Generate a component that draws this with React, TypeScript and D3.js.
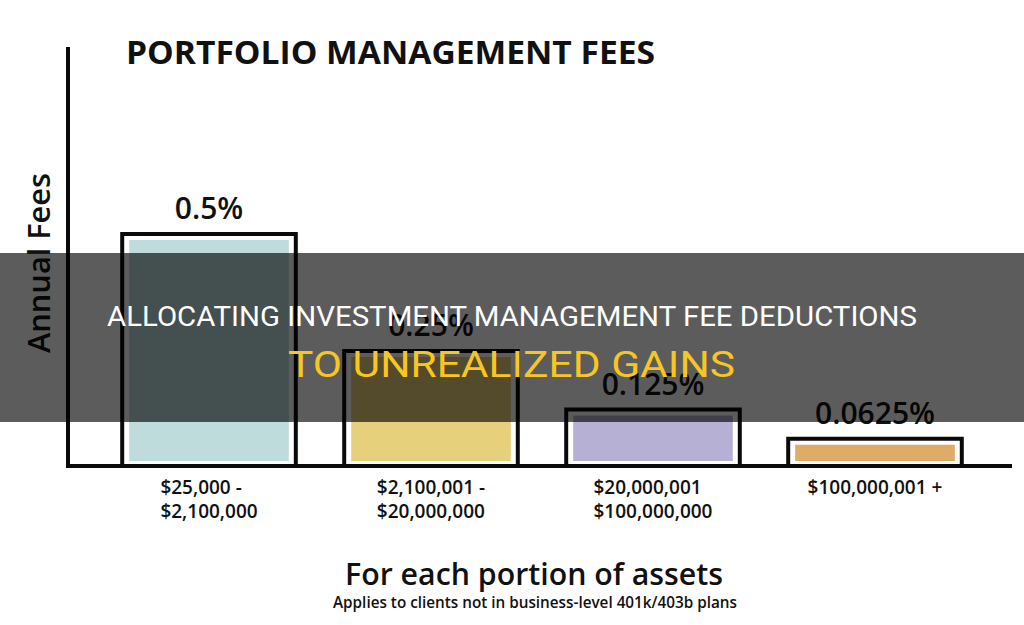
import React, { useEffect, useRef } from "react";
import * as d3 from "d3";

const categoryLine1 = ["$25,000 -", "$2,100,001 -", "$20,000,001", "$100,000,001 +"];
const categoryLine2 = ["$2,100,000", "$20,000,000", "$100,000,000", ""];
const feeValues = [0.5, 0.25, 0.125, 0.0625];
const feeLabels = ["0.5%", "0.25%", "0.125%", "0.0625%"];
const fillColors = ["#bddcdb", "#e6d07b", "#b6b0d4", "#dfab68"];

const W = 1024;
const H = 625;
const FONT = "'Open Sans', 'Noto Sans', sans-serif";

export default function App() {
  const ref = useRef<SVGSVGElement | null>(null);

  useEffect(() => {
    document.body.style.margin = "0";
    const svg = d3.select(ref.current);
    svg.selectAll("*").remove();

    const axisX = 68;
    const axisTop = 47;
    const baseY = 466;

    const x = d3
      .scaleBand<string>()
      .domain(categoryLine1)
      .range([98, 986])
      .paddingInner(0.2)
      .paddingOuter(0.1);
    const y = d3.scaleLinear().domain([0, 0.5]).range([baseY, 232]);
    const bw = x.bandwidth();

    svg.append("rect").attr("width", W).attr("height", H).attr("fill", "#ffffff");

    // Title
    svg
      .append("text")
      .attr("x", 126)
      .attr("y", 64)
      .attr("font-family", FONT)
      .attr("font-weight", 700)
      .attr("font-size", 33)
      .attr("textLength", 529)
      .attr("lengthAdjust", "spacingAndGlyphs")
      .attr("fill", "#111")
      .text("PORTFOLIO MANAGEMENT FEES");

    // Y axis title
    svg
      .append("text")
      .attr("transform", `translate(50,263) rotate(-90)`)
      .attr("text-anchor", "middle")
      .attr("font-family", FONT)
      .attr("font-weight", 600)
      .attr("font-size", 30)
      .attr("textLength", 180)
      .attr("lengthAdjust", "spacingAndGlyphs")
      .attr("fill", "#111")
      .text("Annual Fees");

    const g = svg.append("g");
    feeValues.forEach((v, i) => {
      const cat = categoryLine1[i];
      const x0 = x(cat) as number;
      const top = y(v);
      // inner fill
      g.append("rect")
        .attr("x", x0 + 9)
        .attr("y", top + 8)
        .attr("width", bw - 18)
        .attr("height", baseY - 5 - (top + 8))
        .attr("fill", fillColors[i]);
      // outline
      g.append("rect")
        .attr("x", x0 + 2)
        .attr("y", top + 2)
        .attr("width", bw - 4)
        .attr("height", baseY - top - 2)
        .attr("fill", "none")
        .attr("stroke", "#0a0a0a")
        .attr("stroke-width", 4);
      // value label
      g.append("text")
        .attr("x", x0 + bw / 2)
        .attr("y", top - 13)
        .attr("text-anchor", "middle")
        .attr("font-family", FONT)
        .attr("font-weight", 600)
        .attr("font-size", 30)
        .attr("fill", "#111")
        .text(feeLabels[i]);

      // category labels, left aligned block centered under bar
      const t1 = g
        .append("text")
        .attr("y", 494)
        .attr("font-family", FONT)
        .attr("font-weight", 600)
        .attr("font-size", 19)
        .attr("fill", "#111")
        .text(categoryLine1[i]);
      const t2 = g
        .append("text")
        .attr("y", 518)
        .attr("font-family", FONT)
        .attr("font-weight", 600)
        .attr("font-size", 19)
        .attr("fill", "#111")
        .text(categoryLine2[i]);
      const w1 = (t1.node() as SVGTextElement).getComputedTextLength();
      const w2 = (t2.node() as SVGTextElement).getComputedTextLength();
      const wm = Math.max(w1, w2);
      const left = x0 + bw / 2 - wm / 2;
      t1.attr("x", left);
      t2.attr("x", left);
    });

    // Axes
    svg
      .append("line")
      .attr("x1", axisX)
      .attr("x2", axisX)
      .attr("y1", axisTop)
      .attr("y2", baseY + 2)
      .attr("stroke", "#0a0a0a")
      .attr("stroke-width", 4);
    svg
      .append("line")
      .attr("x1", axisX - 2)
      .attr("x2", 1012)
      .attr("y1", baseY)
      .attr("y2", baseY)
      .attr("stroke", "#0a0a0a")
      .attr("stroke-width", 4);

    // Bottom titles
    svg
      .append("text")
      .attr("x", 534)
      .attr("y", 585)
      .attr("text-anchor", "middle")
      .attr("font-family", FONT)
      .attr("font-weight", 600)
      .attr("font-size", 30)
      .attr("textLength", 378)
      .attr("lengthAdjust", "spacingAndGlyphs")
      .attr("fill", "#111")
      .text("For each portion of assets");
    svg
      .append("text")
      .attr("x", 535)
      .attr("y", 608)
      .attr("text-anchor", "middle")
      .attr("font-family", FONT)
      .attr("font-weight", 600)
      .attr("font-size", 16.5)
      .attr("textLength", 404)
      .attr("lengthAdjust", "spacingAndGlyphs")
      .attr("fill", "#111")
      .text("Applies to clients not in business-level 401k/403b plans");

    // Overlay band
    svg
      .append("rect")
      .attr("x", 0)
      .attr("y", 253)
      .attr("width", W)
      .attr("height", 169)
      .attr("fill", "rgba(0,0,0,0.64)");
    svg
      .append("text")
      .attr("x", 512)
      .attr("y", 326)
      .attr("text-anchor", "middle")
      .attr("font-family", "Roboto, sans-serif")
      .attr("font-weight", 400)
      .attr("font-size", 28)
      .attr("textLength", 810)
      .attr("lengthAdjust", "spacingAndGlyphs")
      .attr("fill", "#ffffff")
      .text("ALLOCATING INVESTMENT MANAGEMENT FEE DEDUCTIONS");
    svg
      .append("text")
      .attr("x", 511.5)
      .attr("y", 377)
      .attr("text-anchor", "middle")
      .attr("font-family", "Roboto, sans-serif")
      .attr("font-weight", 400)
      .attr("font-size", 36)
      .attr("textLength", 447)
      .attr("lengthAdjust", "spacingAndGlyphs")
      .attr("fill", "#f7c623")
      .text("TO UNREALIZED GAINS");
  }, []);

  return <svg ref={ref} width={W} height={H} style={{ display: "block" }} />;
}
